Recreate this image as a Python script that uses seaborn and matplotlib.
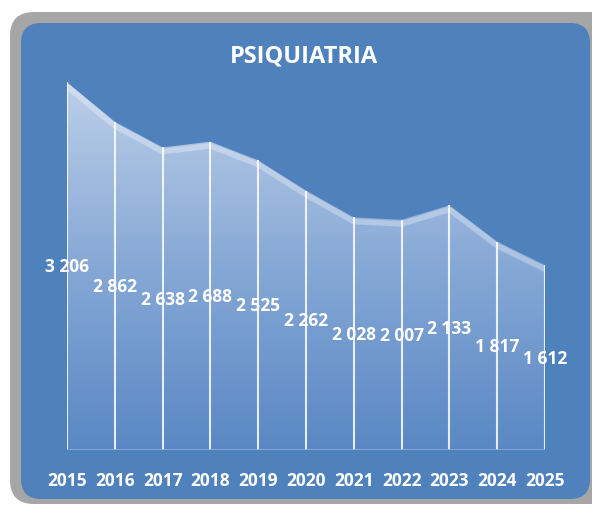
import numpy as np
import pandas as pd
import seaborn as sns
import matplotlib.pyplot as plt
from matplotlib.colors import LinearSegmentedColormap
from matplotlib.patches import FancyBboxPatch
from matplotlib.transforms import IdentityTransform, offset_copy

years = [2015, 2016, 2017, 2018, 2019, 2020, 2021, 2022, 2023, 2024, 2025]
patients = [3206, 2862, 2638, 2688, 2525, 2262, 2028, 2007, 2133, 1817, 1612]
value_labels = ["3 206", "2 862", "2 638", "2 688", "2 525", "2 262",
                "2 028", "2 007", "2 133", "1 817", "1 612"]

df = pd.DataFrame({"year": years, "patients": patients})

sns.set_theme(style="white")
plt.rcParams['font.family'] = ['Open Sans', 'DejaVu Sans']

fig = plt.figure(figsize=(5.92, 5.06), dpi=100)
fig.patch.set_facecolor('white')

# grey frame + blue rounded card (pixel coords), drawn behind the axes
frame = FancyBboxPatch((10, 1), 610, 492, boxstyle='round,pad=0,rounding_size=24',
                       fc='#A6A6A6', ec='none', transform=IdentityTransform(), zorder=-2)
card = FancyBboxPatch((21, 6), 569, 476, boxstyle='round,pad=0,rounding_size=20',
                      fc='#4F81BD', ec='none', transform=IdentityTransform(), zorder=-1)
fig.add_artist(frame)
fig.add_artist(card)

fig.text(0.513, 0.889, "PSIQUIATRIA", ha='center', va='center', color='white',
         fontsize=17, fontweight='bold')

ax = fig.add_axes([67 / 592, 55 / 506, 478 / 592, 390 / 506])
ax.set_facecolor('none')
for s in ax.spines.values():
    s.set_visible(False)

# gradient fill under the line
poly = ax.fill_between(df["year"], df["patients"], 0, color='none', lw=0)
cmap = LinearSegmentedColormap.from_list('fade', ['#5A88C4', '#86A8D6', '#BCCFE8'])
grad = np.linspace(0, 1, 256).reshape(-1, 1)
im = ax.imshow(grad, extent=[years[0], years[-1], 0, max(patients)], origin='lower',
               aspect='auto', cmap=cmap, zorder=1)
im.set_clip_path(poly.get_paths()[0], transform=ax.transData)

# light band just inside the top edge
band = offset_copy(ax.transData, fig=fig, x=0, y=-3, units='points')
sns.lineplot(data=df, x="year", y="patients", ax=ax, color='white', alpha=0.3,
             lw=4, zorder=3, transform=band)
ax.vlines(df["year"], 0, df["patients"], color='white', lw=1.5, alpha=0.85, zorder=2)
ax.axhline(0, color='#86A9D8', lw=1.2, zorder=2)

for x, v, lab in zip(years, patients, value_labels):
    ax.text(x, v / 2, lab, ha='center', va='center', color='white',
            fontsize=12.5, fontweight='bold', zorder=4)

ax.set_xlim(years[0], years[-1])
ax.set_ylim(0, 3400)
ax.set_xticks(years)
ax.set_xticklabels([str(y) for y in years], color='white', fontsize=12.5, fontweight='bold')
ax.tick_params(axis='x', length=0, pad=15)
ax.set_yticks([])
ax.set_xlabel("")
ax.set_ylabel("")

fig.savefig("out.png", dpi=100)
